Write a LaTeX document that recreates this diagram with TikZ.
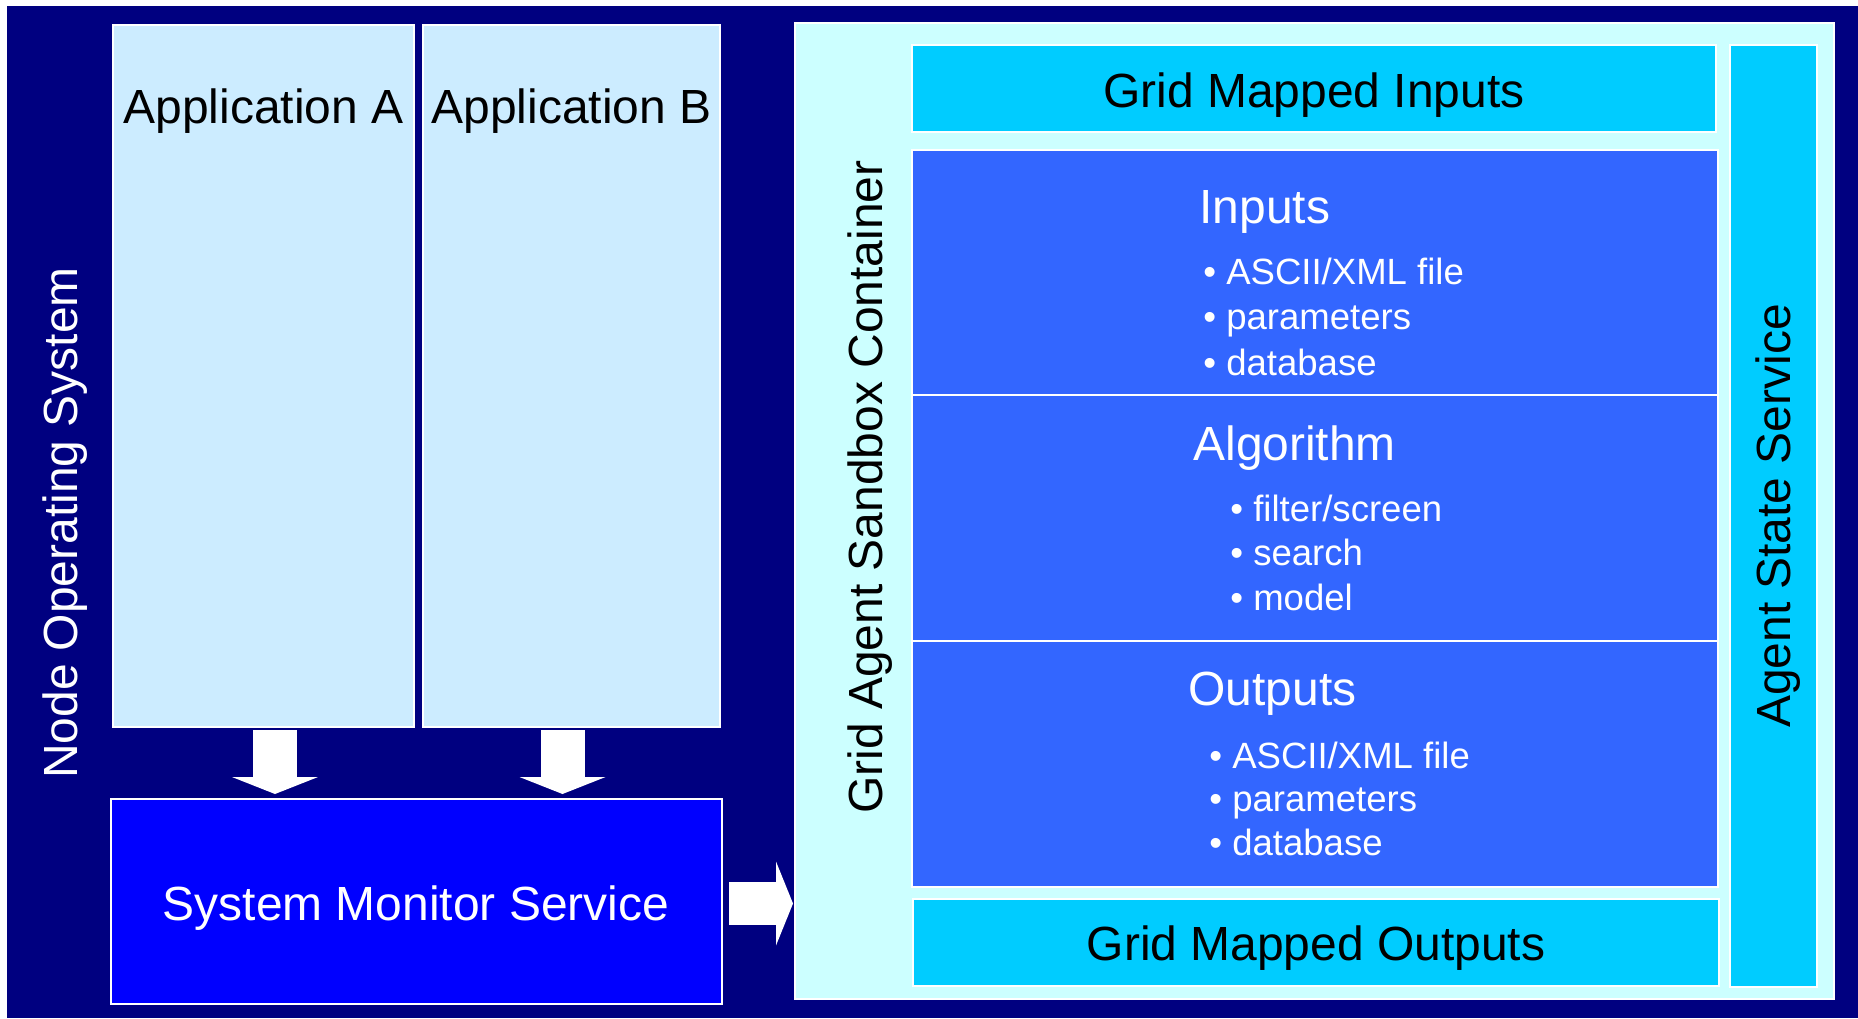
\documentclass[tikz,border=0pt]{standalone}
\usepackage{fontspec}
\setmainfont{Liberation Sans}
\usetikzlibrary{fit,arrows.meta}
\definecolor{osnavy}{HTML}{000080}
\definecolor{appblue}{HTML}{CCECFF}
\definecolor{monblue}{HTML}{0000FF}
\definecolor{boxcyan}{HTML}{CCFFFF}
\definecolor{mapcyan}{HTML}{00CCFF}
\definecolor{stageblue}{HTML}{3366FF}
\begin{document}
\begin{tikzpicture}[x=0.02cm, y=-0.02cm]
    \tikzstyle{panel}=[draw=white, line width=0.04cm, inner sep=0pt]
    \tikzstyle{big}=[inner sep=0pt, anchor=base, font=\fontsize{27.3}{32}\selectfont]
    \tikzstyle{head}=[big, anchor=base west, text=white]
    \tikzstyle{small}=[inner sep=0pt, anchor=base west, text=white,
                            font=\fontsize{20.8}{25}\selectfont]
    \tikzstyle{fatarrow}=[draw=white, line width=0.88cm,
                            -{Triangle[width=1.72cm, length=0.34cm, line width=0pt]}]

    \path[fill=white, use as bounding box] (0,0) rectangle (1858,1018);
    \node[fill=osnavy, inner sep=0pt, fit={(7,6) (1858,1018)}] (os) {};
    \node[big, rotate=90, text=white] (oslabel) at (77,523) {Node Operating System};

    % applications and monitor
    \node[panel, fill=appblue, fit={(113,25) (414,727)}] (appA) {};
    \node[panel, fill=appblue, fit={(423,25) (720,727)}] (appB) {};
    \node[big] (appAlabel) at (263.5,123) {Application A};
    \node[big] (appBlabel) at (571.5,123) {Application B};
    \node[panel, fill=monblue, fit={(111,799) (722,1004)}] (sms) {};
    \node[big, text=white] (smslabel) at (416,920) {System Monitor Service};

    % sandbox container
    \node[panel, fill=boxcyan, fit={(795,23) (1834,999)}] (sandbox) {};
    \node[big, rotate=90] (sandboxlabel) at (882,487) {Grid Agent Sandbox Container};
    \node[panel, fill=mapcyan, fit={(912,45) (1716,132)}] (gmi) {};
    \node[big] (gmilabel) at (1314,107) {Grid Mapped Inputs};
    \node[panel, fill=mapcyan, fit={(913,899) (1719,986)}] (gmo) {};
    \node[big] (gmolabel) at (1316,960) {Grid Mapped Outputs};
    \node[panel, fill=mapcyan, fit={(1730,45) (1817,987)}] (state) {};
    \node[big, rotate=90] (statelabel) at (1790,516) {Agent State Service};

    \node[panel, fill=stageblue, fit={(912,150) (1718,395)}] (inputs) {};
    \node[panel, fill=stageblue, fit={(912,395) (1718,641)}] (algo) {};
    \node[panel, fill=stageblue, fit={(912,641) (1718,887)}] (outputs) {};

    \node[head] (inputshead) at (1199,223) {Inputs};
    \foreach \txt [count=\i] in {ASCII/XML file, parameters, database}
        \node[small] (inputs\i) at (1203,{284+45.5*(\i-1)}) {• \txt};
    \node[head] (algohead) at (1193,460) {Algorithm};
    \foreach \txt [count=\i] in {filter/screen, search, model}
        \node[small] (algo\i) at (1230,{521+44.5*(\i-1)}) {• \txt};
    \node[head] (outputshead) at (1188,705) {Outputs};
    \foreach \txt [count=\i] in {ASCII/XML file, parameters, database}
        \node[small] (outputs\i) at (1209,{768+43.5*(\i-1)}) {• \txt};

    % block arrows
    \draw[fatarrow, shorten <=0.04cm, shorten >=0.08cm]
        ([xshift=0.23cm]appA.south) -- ([xshift=0.23cm]appA.south |- sms.north);
    \draw[fatarrow, shorten <=0.04cm, shorten >=0.08cm]
        ([xshift=-0.18cm]appB.south) -- ([xshift=-0.18cm]appB.south |- sms.north);
    \draw[fatarrow, line width=0.86cm,
          -{Triangle[width=1.68cm, length=0.34cm, line width=0pt]},
          shorten <=0.12cm, shorten >=0.02cm]
        ([yshift=-0.04cm]sms.east) -- ([yshift=-0.04cm]sms.east -| sandbox.west);
\end{tikzpicture}
\end{document}
